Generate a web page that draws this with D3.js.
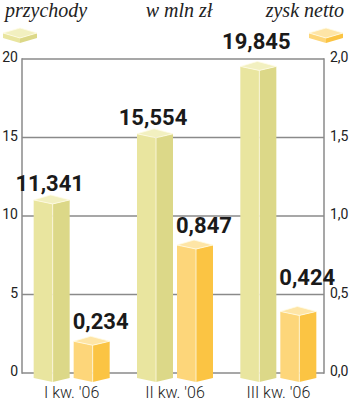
<!DOCTYPE html>
<html>
<head>
<meta charset="utf-8">
<script src="https://cdn.jsdelivr.net/npm/d3@7"></script>
<style>
  body { margin: 0; background: #fff; }
  svg { display: block; }
</style>
</head>
<body>
<svg id="chart"></svg>
<script>
// data
const quarters = ["I kw. '06", "II kw. '06", "III kw. '06"];
const revenue = [11.341, 15.554, 19.845];
const profit = [0.234, 0.847, 0.424];
const revenueTicks = [0, 5, 10, 15, 20];
const profitTicks = [0, 0.5, 1.0, 1.5, 2.0];

// TODO: config
const width = 350;
const height = 404;
const plotLeft = 22;
const plotRight = 324;
const plotTop = 59;
const plotBottom = 373;
const barWidth = 36;
const frontX = 19;      // where the front edge of the prism sits
const backX = 17;
const topDrop = 5;      // side corners below back vertex
const frontDrop = 9;    // front vertex below back vertex

const revColors = { left: "#e9e59f", right: "#dcd888", top: "#f2f0c0" };
const profColors = { left: "#fdd67a", right: "#fbc443", top: "#fee5a6" };

const fmt = (v, digits) => v.toFixed(digits).replace(".", ",");

const svg = d3.select("#chart").attr("width", width).attr("height", height);

const yLeft = d3.scaleLinear().domain([0, 20]).range([plotBottom, plotTop]);
const yRight = d3.scaleLinear().domain([0, 2]).range([plotBottom, plotTop]);
const x = d3.scaleBand().domain(quarters).range([20, 330]);

// ############# grid / frame #############
const grid = svg.append("g").attr("class", "grid");
grid.selectAll("line.h").data(revenueTicks)
    .enter().append("line")
    .attr("class", "h")
    .attr("x1", plotLeft).attr("x2", plotRight)
    .attr("y1", d => yLeft(d)).attr("y2", d => yLeft(d))
    .attr("stroke", "#8a8a8a").attr("stroke-width", 1.5);

[plotLeft, plotRight].forEach(xx => {
    grid.append("line")
        .attr("x1", xx).attr("x2", xx)
        .attr("y1", plotTop - 0.75).attr("y2", plotBottom + 0.75)
        .attr("stroke", "#8a8a8a").attr("stroke-width", 1.5);
});

// ############# axes #############
const axisLeft = d3.axisLeft(yLeft).tickValues(revenueTicks).tickSize(0).tickPadding(0)
    .tickFormat(d => d);
svg.append("g")
    .attr("class", "y axis left")
    .attr("transform", `translate(${18}, 0)`)
    .call(axisLeft)
    .call(g => g.select(".domain").remove());

const axisRight = d3.axisRight(yRight).tickValues(profitTicks).tickSize(0).tickPadding(0)
    .tickFormat(d => fmt(d, 1));
svg.append("g")
    .attr("class", "y axis right")
    .attr("transform", `translate(${330}, 0)`)
    .call(axisRight)
    .call(g => g.select(".domain").remove());

svg.selectAll(".y.axis text")
    .attr("font-family", "Roboto, sans-serif")
    .attr("font-size", 14)
    .attr("fill", "#222")
    .attr("dy", "0.2em");

const axisBottom = d3.axisBottom(x).tickSize(0).tickPadding(0);
svg.append("g")
    .attr("class", "x axis")
    .attr("transform", `translate(0, ${384})`)
    .call(axisBottom)
    .call(g => g.select(".domain").remove())
    .selectAll("text")
    .attr("font-family", "Roboto, sans-serif")
    .attr("font-size", 16)
    .attr("font-weight", 300)
    .attr("fill", "#222")
    .attr("dy", "0.85em");

// ############# prisms #############
const prism = (g, x0, yTop, yBase, c) => {
    const xf = x0 + frontX, xr = x0 + barWidth, xb = x0 + backX;
    g.append("path")
        .attr("d", `M${x0} ${yTop + topDrop} L${xf} ${yTop + frontDrop} L${xf} ${yBase + frontDrop} L${x0} ${yBase + topDrop} Z`)
        .attr("fill", c.left);
    g.append("path")
        .attr("d", `M${xf} ${yTop + frontDrop} L${xr} ${yTop + topDrop} L${xr} ${yBase + topDrop} L${xf} ${yBase + frontDrop} Z`)
        .attr("fill", c.right);
    g.append("path")
        .attr("d", `M${x0} ${yTop + topDrop} L${xb} ${yTop} L${xr} ${yTop + topDrop} L${xf} ${yTop + frontDrop} Z`)
        .attr("fill", c.top)
        .attr("stroke", "#fffbe6").attr("stroke-width", 0.8).attr("stroke-linejoin", "round");
    g.append("line")
        .attr("x1", xf).attr("x2", xf)
        .attr("y1", yTop + frontDrop).attr("y2", yBase + frontDrop)
        .attr("stroke", "#fffbe6").attr("stroke-width", 1).attr("opacity", 0.8);
};

const bars = svg.append("g").attr("class", "bars");
const labelStyle = sel => sel
    .attr("font-family", "Roboto, sans-serif")
    .attr("font-weight", 700)
    .attr("font-size", 22)
    .attr("fill", "#1a1a1a");

// keep a label clear of the grid line it would cross
const clearOfGrid = base => {
    const hit = revenueTicks.map(t => yLeft(t)).find(g => g > base - 16 && g < base + 2);
    return hit === undefined ? base : hit - 10;
};

quarters.forEach((q, i) => {
    const cx = x(q) + x.bandwidth() / 2;
    const g = bars.append("g").attr("class", "barGroup");

    const revX = cx - 38;
    prism(g, revX, yLeft(revenue[i]), plotBottom, revColors);
    g.append("text")
        .attr("x", revX + barWidth / 2 - 2)
        .attr("y", clearOfGrid(yLeft(revenue[i]) - 4))
        .attr("text-anchor", "middle")
        .call(labelStyle)
        .text(fmt(revenue[i], 3));

    const profX = cx + 2;
    prism(g, profX, yRight(profit[i]), plotBottom, profColors);
    g.append("text")
        .attr("x", profX - 1)
        .attr("y", clearOfGrid(yRight(profit[i]) - 7))
        .attr("text-anchor", "start")
        .call(labelStyle)
        .text(fmt(profit[i], 3));
});

// ############# headings + legend #############
const heading = (txt, xx, anchor) => svg.append("text")
    .attr("x", xx).attr("y", 17)
    .attr("text-anchor", anchor)
    .attr("font-family", "'Liberation Serif', serif")
    .attr("font-style", "italic")
    .attr("font-size", 20)
    .attr("fill", "#222")
    .text(txt);
heading("przychody", 5, "start");
heading("w mln zł", 179, "middle");
heading("zysk netto", 344, "end");

const legendIcon = (x0, c) => {
    const g = svg.append("g");
    const w = 34, d = 5, h = 5, y0 = 28;
    g.append("path")
        .attr("d", `M${x0} ${y0 + d} L${x0 + w / 2} ${y0 + 2 * d} L${x0 + w / 2} ${y0 + 2 * d + h} L${x0} ${y0 + d + h} Z`)
        .attr("fill", c.left);
    g.append("path")
        .attr("d", `M${x0 + w / 2} ${y0 + 2 * d} L${x0 + w} ${y0 + d} L${x0 + w} ${y0 + d + h} L${x0 + w / 2} ${y0 + 2 * d + h} Z`)
        .attr("fill", c.right);
    g.append("path")
        .attr("d", `M${x0} ${y0 + d} L${x0 + w / 2} ${y0} L${x0 + w} ${y0 + d} L${x0 + w / 2} ${y0 + 2 * d} Z`)
        .attr("fill", c.top)
        .attr("stroke", "#fffbe6").attr("stroke-width", 0.8);
};
legendIcon(3, revColors);
legendIcon(309, profColors);
</script>
</body>
</html>
